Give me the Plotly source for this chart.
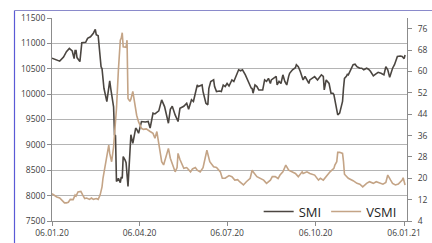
import plotly.graph_objects as go

smi_dates = ["2020-01-06","2020-01-09","2020-01-14","2020-01-18","2020-01-21","2020-01-24","2020-01-27","2020-01-29","2020-01-30","2020-01-31",
"2020-02-01","2020-02-04","2020-02-06","2020-02-10","2020-02-12","2020-02-15","2020-02-18","2020-02-20","2020-02-21","2020-02-23",
"2020-02-26","2020-02-27","2020-02-29","2020-03-03","2020-03-06","2020-03-07","2020-03-10","2020-03-11","2020-03-12","2020-03-13",
"2020-03-15","2020-03-17","2020-03-18","2020-03-19","2020-03-20","2020-03-22","2020-03-23","2020-03-25","2020-03-27","2020-03-28",
"2020-03-30","2020-04-01","2020-04-02","2020-04-03","2020-04-05","2020-04-08","2020-04-12","2020-04-15","2020-04-17","2020-04-20",
"2020-04-22","2020-04-26","2020-04-29","2020-05-02","2020-05-04","2020-05-06","2020-05-08","2020-05-10","2020-05-13","2020-05-16",
"2020-05-18","2020-05-22","2020-05-25","2020-05-27","2020-05-30","2020-06-01","2020-06-05","2020-06-06","2020-06-10","2020-06-11",
"2020-06-14","2020-06-16","2020-06-17","2020-06-19","2020-06-22","2020-06-23","2020-06-25","2020-06-28","2020-06-30","2020-07-02",
"2020-07-04","2020-07-06","2020-07-08","2020-07-11","2020-07-13","2020-07-16","2020-07-18","2020-07-20","2020-07-22","2020-07-25",
"2020-07-27","2020-07-29","2020-07-31","2020-08-01","2020-08-02","2020-08-04","2020-08-06","2020-08-08","2020-08-10","2020-08-12",
"2020-08-14","2020-08-16","2020-08-18","2020-08-20","2020-08-21","2020-08-23","2020-08-26","2020-08-27","2020-08-29","2020-08-31",
"2020-09-02","2020-09-04","2020-09-06","2020-09-08","2020-09-09","2020-09-12","2020-09-15","2020-09-16","2020-09-18","2020-09-20",
"2020-09-22","2020-09-23","2020-09-25","2020-09-27","2020-09-29","2020-09-30","2020-10-03","2020-10-05","2020-10-08","2020-10-11",
"2020-10-12","2020-10-14","2020-10-15","2020-10-17","2020-10-18","2020-10-20","2020-10-22","2020-10-24","2020-10-25","2020-10-26",
"2020-10-28","2020-10-29","2020-10-31","2020-11-01","2020-11-03","2020-11-04","2020-11-05","2020-11-07","2020-11-08","2020-11-09",
"2020-11-11","2020-11-13","2020-11-14","2020-11-16","2020-11-18","2020-11-20","2020-11-21","2020-11-23","2020-11-25","2020-11-28",
"2020-11-30","2020-12-02","2020-12-05","2020-12-07","2020-12-09","2020-12-10","2020-12-13","2020-12-15","2020-12-16","2020-12-18",
"2020-12-20","2020-12-22","2020-12-24","2020-12-25","2020-12-27","2020-12-29","2020-12-30","2021-01-02","2021-01-04","2021-01-06",
"2021-01-07"]
smi_values = [10707,10690,10650,10730,10837,10900,10850,10700,10860,10860,
10720,10640,11014,11020,11100,11130,11200,11277,11170,11150,
10540,10500,10115,9853,10260,10120,9750,9197,9180,8278,
8340,8255,8370,8340,8770,8700,8650,8180,8935,9200,
9030,9260,9330,9310,9230,9460,9450,9460,9330,9625,
9610,9670,9886,9755,9590,9427,9700,9760,9590,9460,
9720,9760,9820,9700,9890,9855,10180,10150,10180,10050,
9820,9790,10110,10246,10280,10150,10050,10060,10050,10180,
10150,10210,10160,10280,10250,10410,10480,10460,10480,10380,
10280,10210,10120,10110,10018,10180,10150,10080,10080,10080,
10280,10250,10310,10210,10280,10310,10350,10180,10250,10210,
10380,10250,10180,10350,10410,10480,10520,10580,10540,10450,
10350,10280,10350,10280,10210,10280,10310,10345,10280,10350,
10380,10350,10083,10280,10250,10210,10018,10018,9990,9890,
9690,9590,9625,9690,9855,10116,10310,10350,10390,10380,
10476,10540,10580,10590,10540,10520,10510,10510,10480,10510,
10490,10450,10360,10390,10410,10430,10410,10390,10380,10540,
10480,10330,10450,10510,10580,10673,10740,10750,10740,10700,
10770]

vsmi_dates = ["2020-01-06","2020-01-08","2020-01-11","2020-01-14","2020-01-16","2020-01-19","2020-01-21","2020-01-23","2020-01-25","2020-01-28",
"2020-01-30","2020-01-31","2020-02-02","2020-02-05","2020-02-07","2020-02-09","2020-02-11","2020-02-14","2020-02-16","2020-02-18",
"2020-02-21","2020-02-23","2020-02-25","2020-02-27","2020-02-28","2020-03-01","2020-03-03","2020-03-05","2020-03-06","2020-03-08",
"2020-03-10","2020-03-11","2020-03-13","2020-03-15","2020-03-17","2020-03-18","2020-03-19","2020-03-20","2020-03-22","2020-03-23",
"2020-03-24","2020-03-25","2020-03-27","2020-03-28","2020-03-30","2020-04-01","2020-04-03","2020-04-05","2020-04-08","2020-04-10",
"2020-04-13","2020-04-17","2020-04-20","2020-04-22","2020-04-24","2020-04-26","2020-04-29","2020-05-01","2020-05-04","2020-05-06",
"2020-05-08","2020-05-10","2020-05-13","2020-05-15","2020-05-16","2020-05-18","2020-05-22","2020-05-25","2020-05-29","2020-05-31",
"2020-06-03","2020-06-05","2020-06-08","2020-06-11","2020-06-15","2020-06-18","2020-06-22","2020-06-25","2020-06-29","2020-07-01",
"2020-07-04","2020-07-08","2020-07-11","2020-07-14","2020-07-17","2020-07-19","2020-07-23","2020-07-26","2020-07-30","2020-08-01",
"2020-08-02","2020-08-06","2020-08-09","2020-08-13","2020-08-16","2020-08-20","2020-08-22","2020-08-25","2020-08-28","2020-08-30",
"2020-09-02","2020-09-05","2020-09-08","2020-09-11","2020-09-15","2020-09-18","2020-09-22","2020-09-23","2020-09-27","2020-09-30",
"2020-10-05","2020-10-09","2020-10-11","2020-10-14","2020-10-18","2020-10-21","2020-10-25","2020-10-26","2020-10-28","2020-10-29",
"2020-10-31","2020-11-03","2020-11-04","2020-11-05","2020-11-09","2020-11-12","2020-11-14","2020-11-18","2020-11-21","2020-11-24",
"2020-11-28","2020-12-01","2020-12-05","2020-12-08","2020-12-12","2020-12-15","2020-12-18","2020-12-20","2020-12-23","2020-12-25",
"2020-12-28","2020-12-31","2021-01-04","2021-01-05","2021-01-07"]
vsmi_values = [14.2,13.7,13.0,12.6,11.9,10.8,10.8,11.0,12.1,12.0,
13.7,13.3,14.9,15.1,13.7,12.4,12.6,12.1,12.6,12.1,
12.4,12.1,13.7,16.8,20.0,23.7,27.4,32.4,29.3,26.2,
31.7,36.8,46.0,60.4,71.7,72.5,74.5,69.2,69.0,69.0,
71.7,49.9,48.8,49.6,52.5,47.7,43.6,41.1,38.7,38.3,
38.5,37.5,36.8,35.0,37.5,33.0,26.2,25.0,28.7,31.2,
27.5,25.7,22.4,24.0,29.3,27.0,23.7,24.0,22.4,23.5,
24.0,23.0,22.4,24.0,30.5,26.2,24.3,24.0,22.4,20.0,
20.0,21.0,20.6,19.3,19.5,18.7,17.5,18.7,20.0,23.0,
22.4,20.6,20.0,19.3,18.1,19.3,20.6,20.6,19.9,21.2,
22.4,24.9,23.0,22.4,21.8,20.6,22.4,21.8,22.4,21.8,
21.2,19.3,20.0,19.3,21.2,22.4,23.7,24.9,26.2,29.7,
29.7,29.3,26.2,21.5,20.0,19.6,19.1,18.1,17.8,16.8,
18.1,18.7,18.1,18.7,18.1,17.8,18.4,21.2,19.3,18.1,
17.5,17.8,19.3,20.2,17.5]

x_tick_dates = ["2020-01-06", "2020-04-06", "2020-07-06", "2020-10-06", "2021-01-06"]
x_tick_labels = ["06.01.20", "06.04.20", "06.07.20", "06.10.20", "06.01.21"]
smi_ticks = [7500, 8000, 8500, 9000, 9500, 10000, 10500, 11000, 11500]
vsmi_ticks = [4, 12, 20, 28, 36, 44, 52, 60, 68, 76]

W, H = 432, 243
ML, MR, MT, MB = 52, 25, 18, 22
pw, ph = W - ML - MR, H - MT - MB

FONT = "Open Sans"
TICKC = "#404040"
AXC = "#8c8c8c"
GRIDC = "#b4b4b4"

fig = go.Figure()
fig.add_trace(go.Scatter(x=smi_dates, y=smi_values, name="SMI", mode="lines",
                         line=dict(color="#4b4641", width=1.6), yaxis="y"))
fig.add_trace(go.Scatter(x=vsmi_dates, y=vsmi_values, name="VSMI", mode="lines",
                         line=dict(color="#c4a486", width=1.6), yaxis="y2"))

border_x = (14.5 - ML) / pw
border_y = (H - MB - 10.5) / ph
fig.update_layout(
    width=W, height=H,
    margin=dict(l=ML, r=MR, t=MT, b=MB, pad=0, autoexpand=False),
    paper_bgcolor="white", plot_bgcolor="white",
    font=dict(family=FONT, size=8.5, color=TICKC),
    showlegend=True,
    legend=dict(orientation="h", x=0.985, xanchor="right", y=-0.027, yanchor="bottom",
                bgcolor="rgba(0,0,0,0)", font=dict(size=13, color="#262626"),
                itemwidth=30, tracegroupgap=0, traceorder="normal"),
    xaxis=dict(type="date", range=["2020-01-06", "2021-01-09"], automargin=False,
               tickvals=x_tick_dates, ticktext=x_tick_labels,
               showgrid=False, zeroline=False, showline=True, linecolor=AXC, linewidth=1,
               ticks="outside", ticklen=4, tickcolor=AXC,
               tickfont=dict(size=8.5, color=TICKC)),
    yaxis=dict(range=[7500, 11500], tickvals=smi_ticks, ticktext=[str(v) for v in smi_ticks],
               automargin=False,
               showgrid=True, gridcolor=GRIDC, gridwidth=1, zeroline=False,
               showline=True, linecolor=AXC, linewidth=1,
               ticks="outside", ticklen=4, tickcolor=AXC, tickfont=dict(size=8.5, color=TICKC)),
    yaxis2=dict(range=[4, 80], tickvals=vsmi_ticks, ticktext=[str(v) for v in vsmi_ticks],
                overlaying="y", side="right", automargin=False,
                showgrid=False, zeroline=False, showline=True, linecolor=AXC, linewidth=1,
                ticks="outside", ticklen=4, tickcolor=AXC, ticklabelstandoff=4,
                tickfont=dict(size=8.5, color=TICKC)),
    shapes=[
        dict(type="line", xref="paper", yref="paper", x0=border_x, x1=border_x,
             y0=border_y, y1=-1, line=dict(color="#5a5ad6", width=1.2)),
        dict(type="line", xref="paper", yref="paper", x0=border_x, x1=2,
             y0=border_y, y1=border_y, line=dict(color="#8a8acb", width=1.2)),
    ],
)

fig.write_html("out.html", config={"displayModeBar": False},
               post_script="document.body.style.margin='0';")
